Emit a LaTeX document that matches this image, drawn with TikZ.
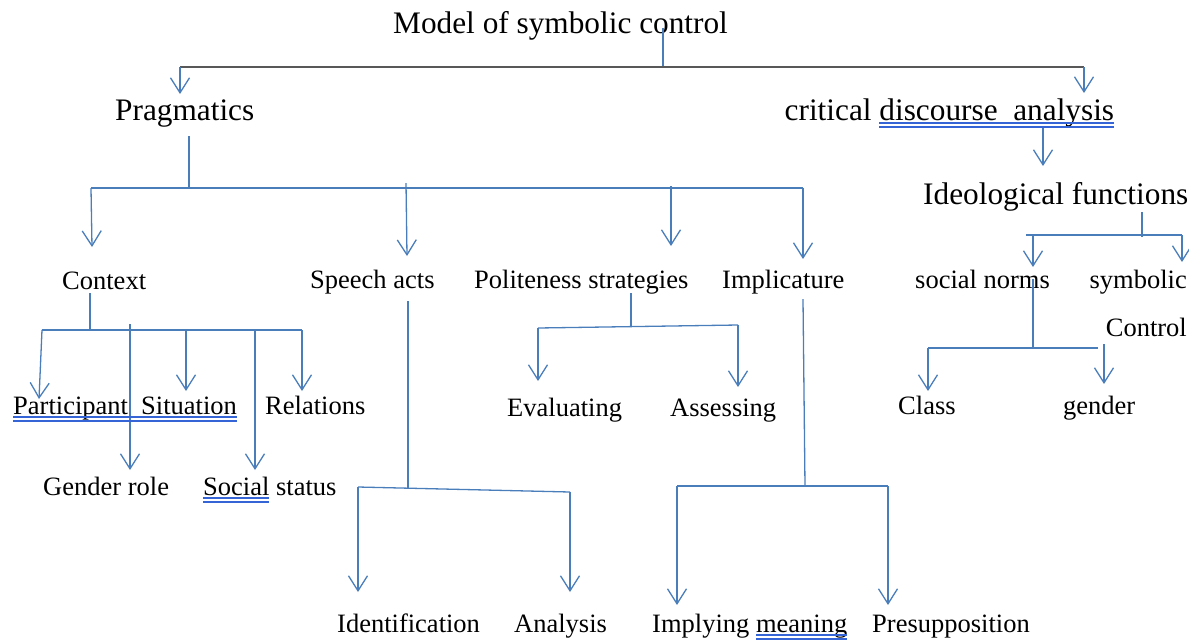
\documentclass[tikz,border=0pt]{standalone}
\usepackage{fontspec}
\setmainfont{Liberation Serif}
\definecolor{linkblue}{RGB}{74, 126, 187}
\definecolor{spellblue}{RGB}{52, 100, 214}
\definecolor{bargray}{RGB}{88, 88, 88}
\usetikzlibrary{arrows.meta, calc}

\begin{document}
\begin{tikzpicture}[x=1pt, y=-1pt,
  big/.style={font=\fontsize{31.3}{36}\selectfont, inner sep=0pt, anchor=base west},
  small/.style={font=\fontsize{26.5}{48}\selectfont, inner sep=0pt, anchor=base west},
  link/.style={draw=linkblue, line width=1.3pt},
  arr/.style={link, -{Straight Barb[length=15pt, width=19pt]}},
  uline/.style={draw=black, line width=0.9pt},
  spell/.style={draw=spellblue, line width=1.1pt}]
  \useasboundingbox (0,0) rectangle (1189,641);

  % Headings
  \node[big] (title) at (393,33) {Model of symbolic control};
  \node[big] (prag) at (115,120) {Pragmatics};
  \node[big] (cda) at (784.5,120) {critical discourse\ \ analysis};
  \node[big] (ideo) at (923,204) {Ideological functions};

  % Second level
  \node[small] (ctx) at (62,289) {Context};
  \node[small] (speech) at (310,288) {Speech acts};
  \node[small] (polite) at (474,288) {Politeness strategies};
  \node[small] (impl) at (722,288) {Implicature};
  \node[small] (norms) at (915,288) {social norms};
  \node[small, anchor=base east, align=right] (symctl) at (1187,336) {symbolic\\Control};

  % Third level
  \node[small] (part) at (13,414) {Participant};
  \node[small] (sit) at (141,414) {Situation};
  \node[small] (rel) at (265,414) {Relations};
  \node[small] (eval) at (507,416) {Evaluating};
  \node[small] (assess) at (670,416) {Assessing};
  \node[small] (class) at (898,414) {Class};
  \node[small] (gend) at (1063,414) {gender};
  \node[small] (grole) at (43,495) {Gender role};
  \node[small] (sstat) at (203,495) {Social status};

  % Bottom row
  \node[small] (ident) at (337,632) {Identification};
  \node[small] (anal) at (514,632) {Analysis};
  \node[small] (implying) at (652,632) {Implying meaning};
  \node[small] (presup) at (872,632) {Presupposition};

  % Junction points
  \coordinate (title-out) at (663,28);  \coordinate (title-bar) at (663,67);
  \coordinate (top-l) at (180,67);      \coordinate (top-r) at (1084,67);
  \coordinate (prag-in) at (180,94);    \coordinate (cda-in) at (1084,93);
  \coordinate (cda-out) at (1043,126);  \coordinate (ideo-in) at (1043,166);

  \coordinate (prag-out) at (189,136);  \coordinate (prag-bar) at (189,188);
  \coordinate (pbar-l) at (91,188);     \coordinate (pbar-r) at (803,188);
  \coordinate (ctx-in) at (92,247);     \coordinate (sp-top) at (406,183);
  \coordinate (sp-in) at (407,256);     \coordinate (pol-top) at (671,186);
  \coordinate (pol-in) at (671,246);    \coordinate (imp-in) at (803,259);

  \coordinate (ctx-out) at (90,293);    \coordinate (ctx-bar) at (90,330);
  \coordinate (cbar-l) at (42,330);     \coordinate (cbar-r) at (302,330);
  \coordinate (part-in) at (39,399);    \coordinate (sit-in) at (186,391);
  \coordinate (sit-top) at (186,330);   \coordinate (rel-in) at (302,391);
  \coordinate (grole-top) at (130,324); \coordinate (grole-in) at (130,470);
  \coordinate (sstat-top) at (255,330); \coordinate (sstat-in) at (255,470);

  \coordinate (sp-out) at (408,301);    \coordinate (sp-bar) at (408,489);
  \coordinate (sbar-l) at (358,487);    \coordinate (sbar-r) at (570,492);
  \coordinate (ident-in) at (358,592);  \coordinate (anal-in) at (570,592);

  \coordinate (pol-out) at (631,293);   \coordinate (pol-bar) at (631,327);
  \coordinate (lbar-l) at (538,328);    \coordinate (lbar-r) at (738,325);
  \coordinate (eval-in) at (538,381);   \coordinate (assess-in) at (738,387);

  \coordinate (imp-out) at (803,299);   \coordinate (imp-bar) at (805,486);
  \coordinate (ibar-l) at (677,486);    \coordinate (ibar-r) at (888,486);
  \coordinate (implying-in) at (677,605); \coordinate (presup-in) at (888,605);

  \coordinate (ideo-out) at (1142,212); \coordinate (ideo-bar) at (1142,237);
  \coordinate (fbar-l) at (1026,235);   \coordinate (fbar-r) at (1182,235);
  \coordinate (norms-top) at (1033,235); \coordinate (norms-in) at (1033,267);
  \coordinate (sym-in) at (1182,262);

  \coordinate (norms-out) at (1033,279); \coordinate (norms-bar) at (1033,349);
  \coordinate (nbar-l) at (928,348);    \coordinate (nbar-r) at (1098,348);
  \coordinate (class-in) at (928,391);  \coordinate (gend-top) at (1104,344);
  \coordinate (gend-in) at (1104,384);

  % Top split
  \draw[link] (title-out) -- (title-bar);
  \draw[draw=bargray, line width=1.4pt] (top-l) -- (top-r);
  \draw[arr] (top-l) -- (prag-in);
  \draw[arr] (top-r) -- (cda-in);
  \draw[arr] (cda-out) -- (ideo-in);

  % Plain stems and bars
  \foreach \a/\b in {prag-out/prag-bar, pbar-l/pbar-r, ctx-out/ctx-bar, cbar-l/cbar-r,
                     sp-out/sp-bar, sbar-l/sbar-r, pol-out/pol-bar, lbar-l/lbar-r,
                     imp-out/imp-bar, ibar-l/ibar-r, ideo-out/ideo-bar, fbar-l/fbar-r,
                     norms-out/norms-bar, nbar-l/nbar-r}
    \draw[link] (\a) -- (\b);

  % Arrows into the boxes
  \foreach \a/\b in {pbar-l/ctx-in, sp-top/sp-in, pol-top/pol-in, pbar-r/imp-in,
                     cbar-l/part-in, sit-top/sit-in, cbar-r/rel-in, grole-top/grole-in,
                     sstat-top/sstat-in, sbar-l/ident-in, sbar-r/anal-in,
                     lbar-l/eval-in, lbar-r/assess-in, ibar-l/implying-in, ibar-r/presup-in,
                     norms-top/norms-in, fbar-r/sym-in, nbar-l/class-in, gend-top/gend-in}
    \draw[arr] (\a) -- (\b);

  % Underlines and spell-check marks
  \coordinate (dis-l) at (879,120);
  \coordinate (mean-l) at (756,632);
  \coordinate (soc-r) at (269,495);
  \foreach \l/\r in {dis-l/cda.base east, part.base west/sit.base east,
                     sstat.base west/soc-r, mean-l/implying.base east} {
    \draw[uline] ($(\l)+(0,2)$) -- ($(\r)+(0,2)$);
    \draw[spell] ($(\l)+(0,3)$) -- ($(\r)+(0,3)$);
    \draw[spell] ($(\l)+(0,7)$) -- ($(\r)+(0,7)$);
  }
\end{tikzpicture}
\end{document}
